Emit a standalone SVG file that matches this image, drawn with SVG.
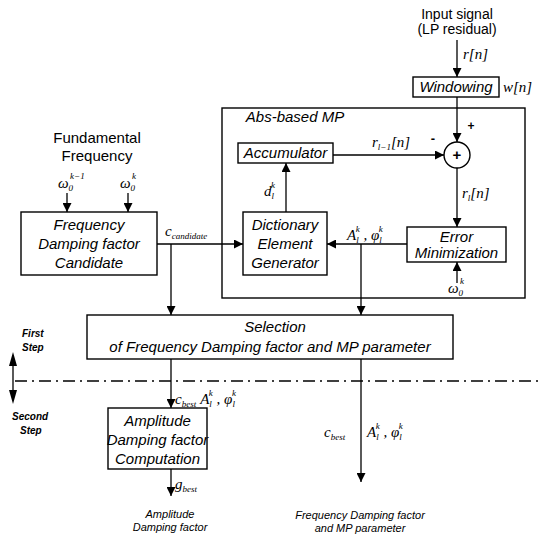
<svg xmlns="http://www.w3.org/2000/svg" width="539" height="538" viewBox="0 0 539 538">
  <defs>
    <marker id="arr" viewBox="0 0 10 10" refX="10" refY="5" markerWidth="12" markerHeight="9" markerUnits="userSpaceOnUse" orient="auto">
      <path d="M0,0 L10,5 L0,10 z" fill="#000"/>
    </marker>
    <style>
      .box { fill: #fff; stroke: #000; stroke-width: 1.4; }
      .ln { fill: none; stroke: #000; stroke-width: 1.3; }
      .ar { fill: none; stroke: #000; stroke-width: 1.3; marker-end: url(#arr); }
      .t { font-family: "Liberation Sans", Arial, sans-serif; font-size: 15px; font-style: italic; fill: #000; text-anchor: middle; }
      .n { font-family: "Liberation Sans", Arial, sans-serif; font-size: 14px; fill: #000; text-anchor: middle; }
      .s { font-family: "Liberation Sans", Arial, sans-serif; font-size: 10px; font-style: italic; font-weight: bold; fill: #000; }
      .o { font-family: "Liberation Sans", Arial, sans-serif; font-size: 11px; font-style: italic; fill: #000; text-anchor: middle; }
      .m { font-family: "Liberation Serif", "Times New Roman", serif; font-size: 15px; font-style: italic; fill: #000; }
      .sub { font-size: 9px; }
    </style>
  </defs>
  <rect width="539" height="538" fill="#fff"/>

  <!-- connectors -->
  <g id="connectors">
    <path class="ar" d="M457,40 V77"/>
    <path class="ar" d="M457,97 V142"/>
    <path class="ar" d="M333,155 H444"/>
    <path class="ar" d="M457,168 V227"/>
    <path class="ar" d="M457,283 V262"/>
    <path class="ar" d="M407,244 H327"/>
    <path class="ar" d="M361,244 V315"/>
    <path class="ar" d="M286,212 V163"/>
    <path class="ar" d="M67,193 V212"/>
    <path class="ar" d="M128,193 V212"/>
    <path class="ar" d="M157,244 H243"/>
    <path class="ar" d="M171,244 V315"/>
    <path class="ar" d="M171,359 V408"/>
    <path class="ar" d="M171,469 V496"/>
    <path class="ar" d="M361,359 V482"/>
    <!-- step boundary -->
    <path class="ln" d="M15,381 H539" stroke-dasharray="12,5,2,5"/>
    <path class="ln" d="M13,364 V393"/>
    <path d="M13,352 L9,366 L17,366 z M13,404 L9,390 L17,390 z" fill="#000"/>
  </g>

  <!-- input -->
  <g id="input">
    <text class="n" x="457" y="19">Input signal</text>
    <text class="n" x="457" y="34">(LP residual)</text>
    <text class="m" x="463" y="59">r[n]</text>
  </g>

  <g id="windowing">
    <rect class="box" x="413" y="77" width="86" height="20"/>
    <text class="t" x="456" y="92">Windowing</text>
    <text class="m" x="503" y="92">w[n]</text>
  </g>

  <g id="abs-mp">
    <rect class="box" x="222" y="108" width="303" height="190" style="fill:none"/>
    <text class="t" x="295" y="122">Abs-based MP</text>
  </g>

  <g id="sum">
    <circle cx="457" cy="155" r="13" class="box"/>
    <text x="457" y="160" font-family="Liberation Sans, sans-serif" font-size="15" font-weight="bold" text-anchor="middle">+</text>
    <text x="471" y="130" font-family="Liberation Sans, sans-serif" font-size="12" font-weight="bold" text-anchor="middle">+</text>
    <text x="433" y="143" font-family="Liberation Sans, sans-serif" font-size="13" font-weight="bold" text-anchor="middle">-</text>
  </g>

  <g id="accumulator">
    <rect class="box" x="238" y="143" width="95" height="20"/>
    <text class="t" x="285.5" y="158">Accumulator</text>
    <text class="m" x="372" y="147">r<tspan class="sub" dy="3">l−1</tspan><tspan dy="-3">[n]</tspan></text>
  </g>

  <g id="dictionary">
    <rect class="box" x="243" y="212" width="84" height="63"/>
    <text class="t" x="285" y="230">Dictionary</text>
    <text class="t" x="285" y="249">Element</text>
    <text class="t" x="285" y="268">Generator</text>
    <text class="m" x="264" y="196">d<tspan class="sub" dy="3">l</tspan><tspan class="sub" dx="-3" dy="-11">k</tspan></text>
  </g>

  <g id="error-min">
    <rect class="box" x="407" y="227" width="99" height="35"/>
    <text class="t" x="456.5" y="242">Error</text>
    <text class="t" x="456.5" y="258">Minimization</text>
    <text class="m" x="462" y="198">r<tspan class="sub" dy="3">l</tspan><tspan dy="-3">[n]</tspan></text>
    <text class="m" x="448" y="293">ω<tspan class="sub" dy="3">0</tspan><tspan class="sub" dx="-3" dy="-12">k</tspan></text>
    <text class="m" x="347" y="240">A<tspan class="sub" dy="3">l</tspan><tspan class="sub" dx="-3" dy="-11">k</tspan><tspan dy="8"> , φ</tspan><tspan class="sub" dy="3">l</tspan><tspan class="sub" dx="-3" dy="-11">k</tspan></text>
  </g>

  <g id="candidate">
    <text class="n" x="97" y="143" style="font-size:15px">Fundamental</text>
    <text class="n" x="97" y="161" style="font-size:15px">Frequency</text>
    <text class="m" x="58" y="188">ω<tspan class="sub" dy="3">0</tspan><tspan class="sub" dx="-3" dy="-12">k−1</tspan></text>
    <text class="m" x="120" y="188">ω<tspan class="sub" dy="3">0</tspan><tspan class="sub" dx="-3" dy="-12">k</tspan></text>
    <rect class="box" x="21" y="212" width="136" height="63"/>
    <text class="t" x="89" y="230">Frequency</text>
    <text class="t" x="89" y="249">Damping factor</text>
    <text class="t" x="89" y="268">Candidate</text>
    <text class="m" x="165" y="236">c<tspan class="sub" dy="3">candidate</tspan></text>
  </g>

  <g id="selection">
    <rect class="box" x="87" y="315" width="366" height="44"/>
    <text class="t" x="275" y="332">Selection</text>
    <text class="t" x="270" y="352">of  Frequency Damping factor and MP parameter</text>
  </g>

  <g id="steps">
    <text class="s" x="22" y="337">First</text>
    <text class="s" x="22" y="351">Step</text>
    <text class="s" x="12" y="420">Second</text>
    <text class="s" x="20" y="434">Step</text>
  </g>

  <g id="amplitude">
    <text class="m" x="175" y="404">c<tspan class="sub" dy="3">best</tspan><tspan dx="4" dy="-3">A</tspan><tspan class="sub" dy="3">l</tspan><tspan class="sub" dx="-3" dy="-11">k</tspan><tspan dy="8"> , φ</tspan><tspan class="sub" dy="3">l</tspan><tspan class="sub" dx="-3" dy="-11">k</tspan></text>
    <rect class="box" x="108" y="408" width="99" height="61"/>
    <text class="t" x="157.5" y="426">Amplitude</text>
    <text class="t" x="157.5" y="445">Damping factor</text>
    <text class="t" x="157.5" y="464">Computation</text>
    <text class="m" x="175" y="489">g<tspan class="sub" dy="3">best</tspan></text>
    <text class="o" x="170" y="518">Amplitude</text>
    <text class="o" x="170" y="531">Damping factor</text>
  </g>

  <g id="output">
    <text class="m" x="324" y="437">c<tspan class="sub" dy="3">best</tspan></text>
    <text class="m" x="367" y="437">A<tspan class="sub" dy="3">l</tspan><tspan class="sub" dx="-3" dy="-11">k</tspan><tspan dy="8"> , φ</tspan><tspan class="sub" dy="3">l</tspan><tspan class="sub" dx="-3" dy="-11">k</tspan></text>
    <text class="o" x="360" y="519">Frequency Damping factor</text>
    <text class="o" x="360" y="532">and MP parameter</text>
  </g>
</svg>
